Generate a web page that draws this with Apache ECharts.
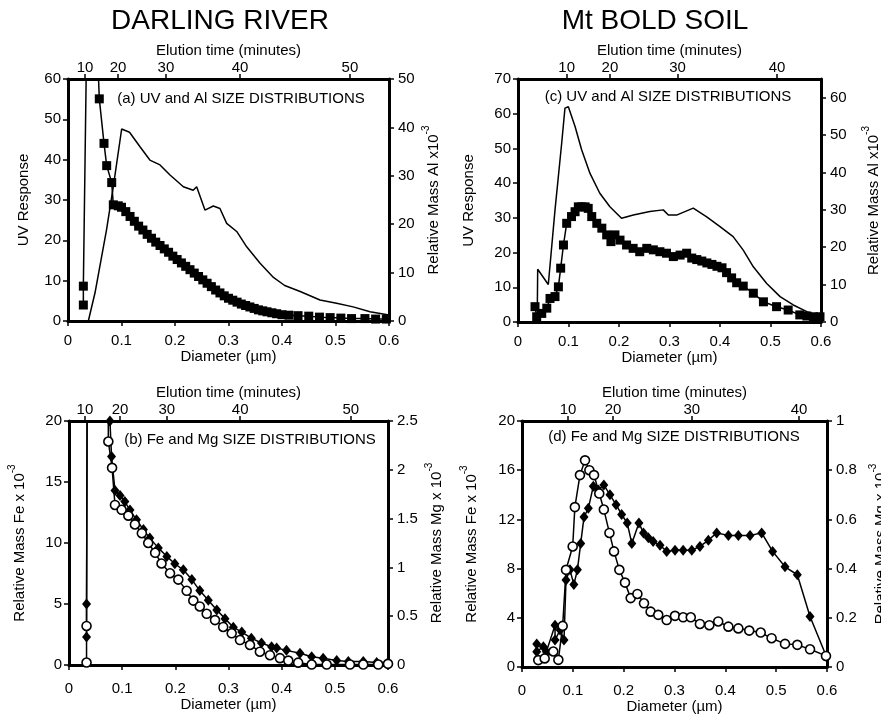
<!DOCTYPE html>
<html><head><meta charset="utf-8">
<script src="https://cdn.jsdelivr.net/npm/echarts@6/dist/echarts.min.js"></script>
<style>html,body{margin:0;padding:0;background:#fff}#c{width:881px;height:716px}</style>
</head><body><div id="c"></div>
<script>
// ---------- DATA ----------
// Panel (a) Darling River: UV response (left) and Al (right, x10^-3)
const aUvDiam = [0.038,0.0505,0.072,0.0847,0.1003,0.115,0.1346,0.153,0.172,0.1907,0.2156,0.234,0.2405,0.256,0.2716,0.284,0.2966,0.3153,0.334,0.359,0.384,0.405,0.434,0.471,0.502,0.533,0.5645,0.600];
const aUv     = [0,7,22.6,33.3,47.6,46.8,43.2,39.9,38.7,36.2,33.3,32.4,33.3,27.5,28.5,27.9,24.2,22.2,18.4,14.3,10.8,8.8,7.3,5.2,4.4,3.5,2.3,1.5];
const aAlDiam = [0.0287,0.0287,0.040,0.0585,0.0673,0.0723,0.0817,0.0847,0.094,0.100,0.108,0.116,0.124,0.132,0.140,0.148,0.156,0.164,0.172,0.180,0.188,0.196,0.204,0.212,0.220,0.228,0.236,0.244,0.252,0.260,0.268,0.276,0.284,0.292,0.300,0.308,0.316,0.324,0.332,0.340,0.348,0.356,0.364,0.372,0.381,0.390,0.400,0.413,0.430,0.450,0.470,0.490,0.510,0.530,0.555,0.575,0.595];
const aAl     = [3.3,7.2,100,45.9,36.7,32.1,28.6,24.0,23.8,23.5,22.6,21.6,20.6,19.6,18.8,17.9,17.1,16.3,15.6,14.9,14.2,13.4,12.7,12.0,11.3,10.6,9.9,9.2,8.5,7.8,7.1,6.4,5.8,5.2,4.7,4.3,3.9,3.5,3.2,2.9,2.6,2.3,2.1,1.9,1.7,1.5,1.3,1.2,1.1,1.0,0.8,0.7,0.6,0.5,0.5,0.4,0.4];

// Panel (c) Mt Bold soil: UV (left) and Al (right)
const cUvDiam = [0.038,0.039,0.060,0.0733,0.0865,0.093,0.0997,0.113,0.126,0.1426,0.162,0.182,0.205,0.2284,0.261,0.2877,0.2977,0.314,0.347,0.3737,0.400,0.426,0.446,0.466,0.4925,0.519,0.545,0.572,0.598];
const cUv     = [0,15.2,10.8,32.3,51.5,61.6,62,56.3,49.6,42.8,37.1,33.2,29.9,30.8,31.8,32.3,30.8,30.8,32.8,30.3,27.5,24.6,20.7,15.9,11.1,7.3,4.9,3.0,1.7];
const cAlDiam = [0.0337,0.037,0.047,0.057,0.0634,0.0733,0.080,0.0845,0.090,0.0964,0.106,0.113,0.1195,0.126,0.133,0.139,0.146,0.156,0.166,0.1756,0.184,0.192,0.202,0.215,0.228,0.241,0.255,0.268,0.281,0.294,0.3076,0.321,0.334,0.344,0.354,0.364,0.374,0.384,0.394,0.404,0.413,0.423,0.433,0.446,0.466,0.486,0.512,0.535,0.558,0.572,0.585,0.598];
const cAl     = [4.1,1.4,2.3,3.7,6.3,6.8,9.4,14.4,20.6,26.4,28.2,29.5,30.8,30.8,30.8,30.4,28.2,26.4,25.1,23.3,21.5,23.3,21.9,20.6,19.7,18.8,19.7,19.3,18.8,18.4,17.5,17.9,18.4,17.1,16.7,16.3,15.8,15.4,14.9,14.5,13.2,11.8,10.5,9.6,7.7,5.4,4.1,3.2,1.9,1.6,1.4,1.4];

// Panel (b) Darling River: Fe (left, x10^-3) and Mg (right, x10^-3)
const bFeDiam = [0.033,0.033,0.052,0.077,0.080,0.0865,0.096,0.105,0.1147,0.127,0.140,0.152,0.168,0.184,0.199,0.215,0.231,0.246,0.262,0.278,0.2934,0.309,0.325,0.343,0.362,0.381,0.3906,0.409,0.4345,0.4564,0.478,0.5035,0.5254,0.5535,0.5787,0.600];
const bFe     = [2.3,5.0,300,20.0,17.1,14.3,13.9,13.4,12.7,11.9,11.1,10.4,9.6,8.9,8.3,7.8,7.0,6.1,5.3,4.5,3.8,3.1,2.7,2.2,1.8,1.5,1.4,1.2,0.96,0.68,0.55,0.36,0.28,0.28,0.2,0.2];
const bMgDiam = [0.033,0.033,0.052,0.074,0.081,0.0865,0.099,0.1116,0.124,0.137,0.149,0.162,0.174,0.190,0.2056,0.2213,0.2338,0.246,0.259,0.2746,0.290,0.306,0.3216,0.3404,0.359,0.378,0.3968,0.4125,0.431,0.4564,0.4847,0.5285,0.5535,0.5817,0.600];
const bMg     = [0.025,0.40,40,2.29,2.02,1.64,1.59,1.53,1.44,1.35,1.25,1.15,1.04,0.94,0.875,0.76,0.66,0.60,0.525,0.46,0.39,0.325,0.256,0.205,0.136,0.10,0.07,0.045,0.024,0.005,0.005,0.005,0.005,0.005,0.012];

// Panel (d) Mt Bold soil: Fe (left) and Mg (right)
const dFeDiam = [0.029,0.029,0.042,0.048,0.065,0.065,0.075,0.0826,0.0866,0.0944,0.102,0.109,0.1155,0.122,0.1305,0.1403,0.150,0.161,0.173,0.185,0.196,0.207,0.216,0.230,0.239,0.2485,0.258,0.2715,0.2846,0.301,0.317,0.334,0.350,0.3666,0.383,0.406,0.4256,0.4486,0.4715,0.493,0.5174,0.5416,0.5666,0.599];
const dFe     = [1.87,1.25,1.65,1.25,3.4,2.2,3.0,2.2,7.07,7.9,6.7,7.9,10.05,12.2,12.9,14.7,14.4,14.8,14.0,13.2,12.4,11.7,10.05,11.7,10.9,10.5,10.2,9.9,9.4,9.5,9.5,9.5,9.8,10.3,10.9,10.7,10.7,10.7,10.9,9.4,8.15,7.5,4.1,0.84];
const dMgDiam = [0.032,0.0446,0.0616,0.0715,0.080,0.0866,0.0997,0.104,0.114,0.124,0.1325,0.1417,0.152,0.161,0.172,0.181,0.1915,0.2026,0.2138,0.227,0.240,0.253,0.268,0.2846,0.301,0.317,0.332,0.350,0.3685,0.386,0.406,0.4256,0.447,0.4696,0.491,0.5174,0.5416,0.5666,0.598];
const dMg     = [0.028,0.035,0.063,0.029,0.167,0.395,0.49,0.65,0.78,0.84,0.80,0.78,0.705,0.64,0.545,0.47,0.395,0.343,0.28,0.297,0.259,0.225,0.212,0.191,0.208,0.202,0.202,0.175,0.17,0.185,0.164,0.157,0.148,0.14,0.117,0.094,0.09,0.072,0.045];

// Elution-time (top axis) tick labels and the diameters where they sit
const aElutionLabels = [10,20,30,40,50];
const aElutionDiam   = [0.032,0.0935,0.183,0.3215,0.527];
const cElutionLabels = [10,20,30,40];
const cElutionDiam   = [0.0964,0.182,0.316,0.513];
const bElutionLabels = [10,20,30,40,50];
const bElutionDiam   = [0.030,0.096,0.184,0.322,0.530];
const dElutionLabels = [10,20,30,40];
const dElutionDiam   = [0.0906,0.179,0.334,0.545];

// ---------- CHART ----------
const FONT = '"Liberation Sans", Arial, Helvetica, sans-serif';
const pairs = (xs, ys) => xs.map((x, i) => [x, ys[i]]);
const BLACK = '#000';
const lineAx = {show: true, onZero: false, lineStyle: {color: BLACK, width: 3}};
const tick = {show: true, length: 5, lineStyle: {color: BLACK, width: 1.5}};
const lab = (m) => ({margin: m, fontSize: 15, color: BLACK, fontFamily: FONT});
const nameStyle = {fontSize: 15, color: BLACK, fontFamily: FONT,
  rich: {n: {fontSize: 15, color: BLACK, fontFamily: FONT, verticalAlign: 'bottom', lineHeight: 20},
         sup: {fontSize: 10, color: BLACK, fontFamily: FONT, verticalAlign: 'top', lineHeight: 20}}};

const grids = [
  {left: 68, top: 79, width: 321, height: 242},
  {left: 518, top: 79, width: 303, height: 243},
  {left: 69, top: 421, width: 319, height: 244},
  {left: 522, top: 421, width: 305, height: 246}
];
const elution = [[aElutionDiam, aElutionLabels], [cElutionDiam, cElutionLabels], [bElutionDiam, bElutionLabels], [dElutionDiam, dElutionLabels]];
const bottomGap = [28, 28, 30, 31];
const bottomMargin = [12, 12, 16, 16];

const xAxis = [];
grids.forEach((g, i) => {
  xAxis.push({type: 'value', gridIndex: i, min: 0, max: 0.6, interval: 0.1, position: 'bottom',
    name: 'Diameter (µm)', nameLocation: 'middle', nameGap: bottomGap[i], nameTextStyle: {fontSize: 15, color: BLACK, fontFamily: FONT},
    axisLine: lineAx, axisTick: tick, splitLine: {show: false},
    axisLabel: Object.assign(lab(bottomMargin[i]), {formatter: v => v === 0 ? '0' : v.toFixed(1)})});
  const [pos, labs] = elution[i];
  xAxis.push({type: 'value', gridIndex: i, min: 0, max: 0.6, position: 'top',
    name: 'Elution time (minutes)', nameLocation: 'middle', nameGap: 21, nameTextStyle: {fontSize: 15, color: BLACK, fontFamily: FONT},
    axisLine: lineAx, splitLine: {show: false},
    axisTick: Object.assign({}, tick, {customValues: pos}),
    axisLabel: Object.assign(lab(4), {customValues: pos, formatter: v => {
      const k = pos.findIndex(p => Math.abs(p - v) < 1e-9); return k >= 0 ? String(labs[k]) : ''; }})});
});

const yCfg = [
  {l: {max: 60, interval: 10, name: 'UV Response', gap: 37},
   r: {max: 50, interval: 10, name: '{n|Relative Mass Al x10}{sup|-3}', gap: 32}},
  {l: {max: 70, interval: 10, name: 'UV Response', gap: 42},
   r: {max: 65, interval: 10, name: '{n|Relative Mass Al x10}{sup|-3}', gap: 40, custom: [0,10,20,30,40,50,60]}},
  {l: {max: 20, interval: 5, name: '{n|Relative Mass Fe x 10}{sup|-3}', gap: 42},
   r: {max: 2.5, interval: 0.5, name: '{n|Relative Mass Mg x 10}{sup|-3}', gap: 36}},
  {l: {max: 20, interval: 4, name: '{n|Relative Mass Fe x 10}{sup|-3}', gap: 43},
   r: {max: 1, interval: 0.2, name: '{n|Relative Mass Mg x 10}{sup|-3}', gap: 41}}
];
const yAxis = [];
yCfg.forEach((c, i) => {
  yAxis.push({type: 'value', gridIndex: i, min: 0, max: c.l.max, interval: c.l.interval, position: 'left',
    name: c.l.name, nameLocation: 'middle', nameRotate: 90, nameGap: c.l.gap, nameTextStyle: nameStyle,
    axisLine: lineAx, axisTick: tick, splitLine: {show: false}, axisLabel: lab(7)});
  const r = {type: 'value', gridIndex: i, min: 0, max: c.r.max, interval: c.r.interval, position: 'right',
    name: c.r.name, nameLocation: 'middle', nameRotate: 90, nameGap: c.r.gap, nameTextStyle: nameStyle,
    axisLine: lineAx, axisTick: Object.assign({}, tick), splitLine: {show: false}, axisLabel: lab(9)};
  if (c.r.custom) { r.axisLabel.customValues = c.r.custom; r.axisTick.customValues = c.r.custom; }
  yAxis.push(r);
});

const lineS = (g, yi, data) => ({type: 'line', xAxisIndex: 2 * g, yAxisIndex: 2 * g + yi, data, symbol: 'none',
  lineStyle: {color: BLACK, width: 1.5}, clip: true, z: 2});
const markS = (g, yi, data, sym, size, filled) => ({type: 'line', xAxisIndex: 2 * g, yAxisIndex: 2 * g + yi, data,
  symbol: sym, symbolSize: size, showAllSymbol: true, clip: true,
  lineStyle: {color: BLACK, width: 1.5},
  itemStyle: filled ? {color: BLACK} : {color: '#fff', borderColor: BLACK, borderWidth: 1.6}, z: 3});

const series = [
  lineS(0, 0, pairs(aUvDiam, aUv)),
  markS(0, 1, pairs(aAlDiam, aAl), 'rect', 9, true),
  lineS(1, 0, pairs(cUvDiam, cUv)),
  markS(1, 1, pairs(cAlDiam, cAl), 'rect', 9, true),
  markS(2, 0, pairs(bFeDiam, bFe), 'diamond', [9, 11], true),
  markS(2, 1, pairs(bMgDiam, bMg), 'circle', 9, false),
  markS(3, 0, pairs(dFeDiam, dFe), 'diamond', [9, 11], true),
  markS(3, 1, pairs(dMgDiam, dMg), 'circle', 9, false)
];

const txt = (x, y, text, size) => ({type: 'text', x, y, z: 10,
  style: {text, fontSize: size, fontFamily: FONT, fill: BLACK, align: 'center', verticalAlign: 'middle'}});

const chart = echarts.init(document.getElementById('c'), null, {renderer: 'canvas'});
chart.setOption({
  animation: false,
  backgroundColor: '#fff',
  grid: grids.map(g => Object.assign({containLabel: false, outerBoundsMode: 'none'}, g)),
  xAxis, yAxis, series,
  graphic: [
    txt(220, 21, 'DARLING RIVER', 28),
    txt(655, 21, 'Mt BOLD SOIL', 28),
    txt(241, 99, '(a) UV and Al SIZE DISTRIBUTIONS', 15),
    txt(668, 97, '(c) UV and Al SIZE DISTRIBUTIONS', 15),
    txt(250, 440, '(b) Fe and Mg SIZE DISTRIBUTIONS', 15),
    txt(674, 437, '(d) Fe and Mg SIZE DISTRIBUTIONS', 15)
  ]
});
</script></body></html>
